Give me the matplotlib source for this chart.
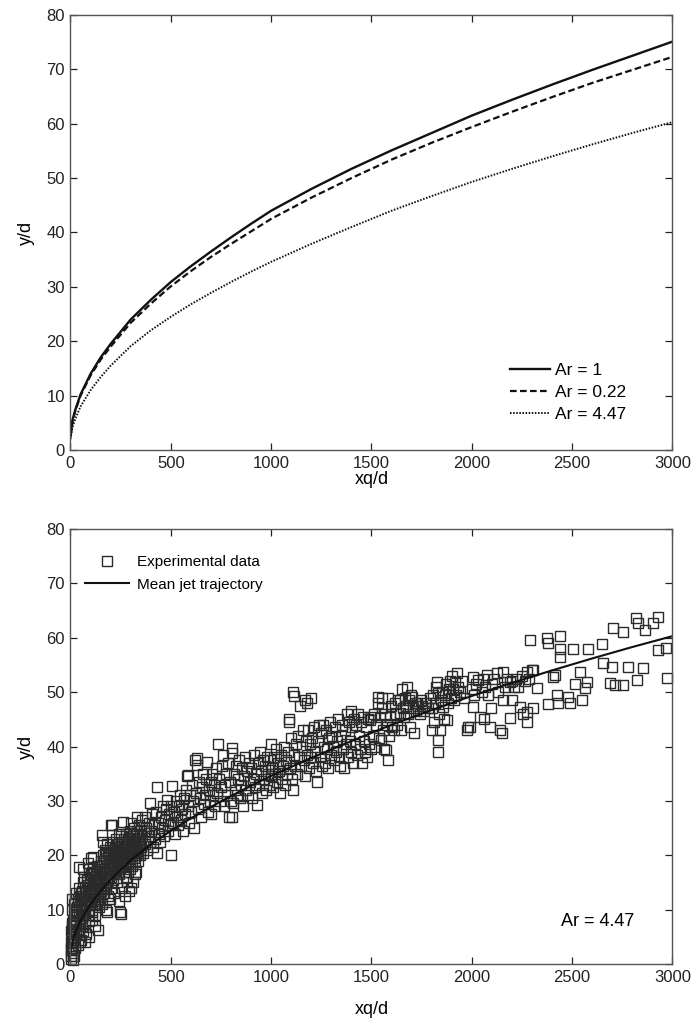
import matplotlib
matplotlib.use("Agg")
import matplotlib.pyplot as plt

plt.rcParams['font.family'] = ['Liberation Sans', 'DejaVu Sans']

# trajectory curves
curve_x = [0, 10, 25, 50, 100, 150, 200, 300, 400, 500, 600, 700, 800, 900, 1000,
           1200, 1400, 1600, 1800, 2000, 2200, 2400, 2600, 2800, 3000]
ar1_y = [2.5, 5.5, 7.5, 10.2, 14.0, 17.0, 19.5, 24.0, 27.6, 30.9, 33.8, 36.5, 39.1, 41.6, 44.0,
         48.0, 51.7, 55.1, 58.3, 61.5, 64.4, 67.2, 69.9, 72.5, 75.1]
ar022_y = [2.5, 5.3, 7.3, 10.0, 13.7, 16.6, 19.0, 23.4, 26.9, 30.1, 32.9, 35.5, 37.9, 40.2, 42.5,
           46.4, 50.0, 53.4, 56.5, 59.4, 62.2, 64.9, 67.5, 69.9, 72.3]
ar447_y = [2.0, 4.2, 5.8, 8.0, 11.0, 13.4, 15.5, 19.1, 22.0, 24.5, 26.8, 28.9, 30.9, 32.8, 34.6,
           37.9, 41.0, 44.0, 46.7, 49.3, 51.7, 54.0, 56.2, 58.3, 60.3]

# experimental points (Ar = 4.47), grouped by stretch of xq/d
pts_0_150 = [
    (2, 1), (3, 2.5), (5, 4), (4, 6), (6, 7.5), (8, 3), (10, 5), (12, 8), (10, 10), (15, 6.5),
    (15, 2), (18, 9), (20, 11), (20, 4.5), (22, 7), (25, 12), (25, 9.5), (28, 5.5), (30, 8),
    (30, 13), (32, 10.5), (35, 6.5), (38, 11.5), (40, 9), (40, 14), (42, 17.8), (45, 7),
    (48, 12.5), (50, 10), (52, 4.5), (55, 13.5), (55, 8.5), (58, 11), (60, 15), (60, 6),
    (8, 12), (5, 1.5), (12, 0.8), (18, 1.5), (35, 3.5), (45, 4),
    (62, 9), (65, 12), (68, 16), (70, 7.5), (72, 10.5), (75, 13.5), (78, 5.5), (80, 11.5),
    (82, 15.5), (85, 9), (88, 13), (90, 17.5), (92, 8), (95, 11), (98, 14.5), (100, 12),
    (100, 16.5), (103, 19.5), (105, 9.5), (107, 8.1), (110, 13.5), (112, 19.7), (115, 11),
    (115, 15.5), (118, 17), (120, 12.5), (122, 9), (125, 14.5), (128, 16.5), (130, 11.5),
    (132, 18), (135, 13), (137, 6.3), (138, 15.5), (140, 10.5), (142, 17), (145, 12.5),
    (148, 14), (150, 19), (150, 16), (70, 4), (90, 5), (120, 7), (85, 18.5), (60, 17.5),
]
pts_core = [
    (5, 3), (8, 5.5), (10, 7), (14, 4), (16, 8), (20, 6), (24, 3), (26, 10), (28, 7.5), (33, 9),
    (36, 12), (40, 6), (44, 10.5), (47, 8), (50, 13), (54, 11), (57, 7), (63, 12.5), (66, 10),
    (70, 14), (74, 9), (77, 12), (80, 15), (84, 11), (87, 14.5), (91, 10), (94, 13), (97, 16),
    (102, 11.5), (106, 14), (109, 17), (113, 12.5), (117, 14.5), (121, 16), (124, 11),
    (127, 13.5), (131, 15), (134, 17), (139, 12), (143, 15), (146, 17.5), (149, 12),
    (153, 15.5), (157, 18), (161, 13), (164, 16.5), (167, 19), (171, 14.5), (174, 17.5),
    (177, 20.5), (181, 15), (184, 18), (187, 20.5), (191, 16), (194, 19), (197, 17.5),
    (201, 20), (204, 16), (207, 18.5), (211, 21), (214, 16.5), (217, 19.5), (221, 18.5),
    (224, 21), (227, 17), (231, 19), (234, 21.5), (237, 17.5), (241, 20), (244, 22), (247, 18),
    (251, 20), (254, 22.5), (257, 19), (261, 21), (264, 18), (267, 23), (271, 19.5),
    (274, 21.5), (277, 16), (281, 20), (284, 22), (287, 17), (291, 20.5), (294, 22), (297, 19),
    (303, 21.5), (306, 23.5), (309, 20), (313, 22.5), (316, 19.5), (319, 23), (323, 21),
    (326, 20), (329, 22), (333, 24.5), (336, 20.5), (339, 23), (344, 22.5), (347, 21),
]
pts_150_500 = [
    (152, 13.5), (155, 23.7), (155, 17.5), (158, 11), (160, 15), (162, 20), (165, 13),
    (168, 18.5), (170, 16), (172, 21), (175, 10), (175, 14), (178, 19.5), (180, 17), (182, 22),
    (185, 12.5), (188, 15.5), (190, 20), (192, 18), (195, 16.5), (198, 21.5), (200, 14),
    (200, 25.5), (203, 19), (205, 17.5), (205, 25.6), (208, 22.5), (210, 15.5), (212, 20.5),
    (215, 18), (218, 13), (220, 21.5), (222, 17), (225, 19.5), (228, 23), (230, 15), (232, 20),
    (235, 18.5), (238, 22), (240, 16.5), (242, 11.5), (245, 9.6), (248, 20.5), (250, 9.2),
    (250, 23.5), (252, 18), (255, 21), (258, 14), (260, 19.5), (262, 26.1), (265, 22.5),
    (268, 17), (270, 20.5), (272, 12.5), (275, 24), (278, 18.5), (280, 21.5), (282, 15),
    (285, 23), (288, 19.5), (290, 22), (292, 13.5), (295, 24.5), (298, 17.5), (300, 20.5),
    (302, 26), (305, 22), (308, 18), (310, 24), (312, 15), (315, 21), (318, 25), (320, 19),
    (322, 22.5), (325, 17), (328, 24), (330, 27), (332, 21), (335, 23), (338, 19), (340, 25.5),
    (342, 22), (345, 20), (348, 24), (350, 21.5), (240, 24), (180, 9.5), (195, 12), (300, 14),
    (320, 16.5), (160, 22.5),
    (355, 23.5), (358, 26.5), (360, 20.5), (365, 24.5), (370, 22), (372, 27), (378, 25),
    (380, 21), (385, 23.5), (390, 26), (395, 22.5), (397, 29.6), (400, 24.5), (405, 27.5),
    (410, 21.5), (415, 25.5), (420, 23), (425, 28), (430, 32.6), (430, 20.5), (435, 26),
    (440, 24), (445, 22.5), (450, 27), (455, 25), (460, 29), (465, 23.5), (470, 26.5),
    (475, 28.5), (480, 30.2), (485, 24.5), (490, 27.5), (495, 25.5), (500, 20), (500, 29),
]
pts_500_1000 = [
    (505, 32.7), (510, 26), (515, 28), (520, 24), (525, 30), (530, 27), (535, 25.5), (540, 29),
    (545, 31), (550, 26.5), (555, 28.5), (560, 24.5), (565, 30.5), (570, 27.5), (575, 32),
    (580, 34.5), (585, 34.8), (588, 29), (590, 26), (595, 31), (600, 28), (605, 33), (610, 30),
    (615, 25), (620, 37.5), (625, 31.5), (630, 37.9), (630, 36.6), (635, 28.5), (640, 33.5),
    (645, 30.5), (650, 27), (655, 32.5), (660, 35), (665, 29.5), (670, 31), (675, 34),
    (680, 37.1), (685, 28), (690, 32), (695, 30), (700, 33.5), (700, 27.5),
    (705, 35), (710, 31), (715, 33), (720, 29), (725, 36), (730, 31.5), (735, 40.5), (740, 34),
    (745, 30), (750, 32.5), (755, 36.5), (760, 38.4), (765, 29), (770, 33), (775, 35), (780, 31),
    (785, 37), (790, 27), (795, 33.5), (800, 30), (805, 39.7), (805, 38.8), (810, 29.6),
    (805, 27), (815, 35), (820, 32), (825, 36.5), (830, 31), (835, 34), (840, 37.5),
    (845, 30.5), (850, 33), (855, 36), (860, 29), (865, 34.5), (870, 38), (875, 32),
    (880, 35.5), (885, 31), (890, 37), (895, 33.5), (900, 36), (905, 30.5), (910, 34),
    (915, 38.5), (920, 32.5), (925, 35), (930, 29.2), (935, 37), (940, 33), (945, 39),
    (950, 35.5), (955, 31.5), (960, 37.5), (965, 34), (970, 36.5), (975, 32), (980, 38),
    (985, 35), (990, 33), (995, 37.5), (1000, 40.5), (1000, 34.5),
]
pts_1000_1500 = [
    (1005, 36), (1010, 32.5), (1015, 38), (1020, 35), (1025, 39.5), (1030, 33.5), (1035, 37),
    (1040, 35.5), (1045, 31.4), (1050, 38.5), (1055, 34), (1060, 36.5), (1065, 40), (1070, 33),
    (1075, 37.5), (1080, 35), (1085, 39), (1090, 45), (1090, 44.5), (1095, 36), (1100, 41.5),
    (1105, 34), (1110, 32), (1110, 50), (1112, 49.3), (1115, 38.5), (1120, 36.5), (1125, 40.5),
    (1130, 35), (1135, 42), (1140, 38), (1145, 47.5), (1150, 36.5), (1155, 40), (1160, 43),
    (1165, 37.5), (1170, 48.6), (1170, 34.5), (1175, 41), (1180, 48), (1180, 38.5), (1185, 43),
    (1190, 36), (1195, 40.5), (1200, 48.9), (1200, 38),
    (1205, 41.5), (1210, 37), (1215, 43.5), (1220, 39), (1225, 35.5), (1230, 33.5), (1235, 41),
    (1240, 44), (1245, 38), (1250, 42.5), (1255, 36.5), (1260, 44), (1265, 40), (1270, 37),
    (1275, 43), (1280, 39.5), (1285, 36), (1290, 41.5), (1295, 44.5), (1300, 38.5), (1305, 42),
    (1310, 40), (1315, 37.5), (1320, 43.5), (1325, 39), (1330, 41), (1335, 45), (1340, 38),
    (1345, 36.5), (1350, 42), (1355, 44), (1360, 39.5), (1365, 36), (1370, 43), (1375, 40.5),
    (1380, 46), (1385, 38), (1390, 44.5), (1395, 41), (1400, 46.5), (1400, 39), (1405, 43.5),
    (1410, 37), (1415, 45), (1420, 40.5), (1425, 44), (1430, 38.5), (1435, 46), (1440, 42),
    (1445, 39.5), (1450, 44.5), (1455, 37), (1460, 45.5), (1465, 41), (1470, 39), (1475, 43.5),
    (1480, 38), (1485, 45), (1490, 40.5), (1495, 44.9), (1500, 45.5), (1500, 39.5),
]
pts_1500_2100 = [
    (1510, 42), (1515, 46), (1520, 40), (1525, 44), (1530, 49.1), (1530, 48), (1535, 41.5),
    (1540, 45.5), (1545, 41.2), (1550, 47), (1550, 49), (1555, 43), (1560, 39.5), (1565, 46),
    (1570, 39.4), (1575, 44), (1580, 37.5), (1580, 49), (1585, 42), (1590, 45.4), (1595, 47.5),
    (1600, 43.5), (1610, 43), (1615, 48), (1620, 46), (1625, 44), (1630, 48.5), (1640, 48.6),
    (1640, 46.2), (1645, 43), (1650, 50.5), (1655, 47), (1660, 45.5), (1665, 49), (1670, 47.5),
    (1675, 51), (1680, 46), (1685, 48.5), (1690, 43.6), (1695, 49.5), (1700, 49.1), (1705, 47),
    (1710, 42.5), (1715, 48), (1720, 46.5), (1725, 48), (1730, 47.5), (1740, 46), (1745, 48.5),
    (1750, 47.5), (1760, 46.5), (1770, 48), (1780, 47), (1790, 49), (1800, 43), (1800, 47),
    (1805, 49.5), (1810, 44.5), (1815, 48), (1820, 51), (1825, 51.9), (1830, 49.8), (1830, 41.2),
    (1830, 39), (1835, 46), (1840, 43), (1845, 48.5), (1850, 50), (1855, 47.3), (1860, 45),
    (1865, 49.5), (1870, 51.5), (1875, 44.9), (1880, 48), (1885, 50.5), (1890, 52), (1895, 49),
    (1900, 53), (1905, 50.5), (1910, 48.5), (1915, 51.9), (1920, 49.5), (1925, 53.5), (1930, 51),
    (1940, 50), (1950, 52), (1960, 49), (1975, 43), (1980, 43.5), (1990, 43.6), (2000, 50.5),
    (2005, 47.3), (2005, 52.8), (2010, 49.5), (2020, 51.5), (2030, 52.2), (2040, 45.4),
    (2050, 50), (2055, 52.5), (2060, 45), (2065, 51), (2075, 53.1), (2080, 49.5), (2090, 43.6),
    (2095, 47), (2100, 51.5),
]
pts_2100_3000 = [
    (2110, 52.5), (2125, 53.5), (2130, 50), (2140, 43), (2150, 42.5), (2155, 53.7), (2155, 48.6),
    (2165, 51), (2175, 52.5), (2190, 51.9), (2190, 45.2), (2200, 48.6), (2200, 52), (2210, 51),
    (2220, 52.5), (2230, 51), (2240, 47.3), (2250, 53), (2255, 46), (2265, 52), (2275, 53.7),
    (2275, 46.3), (2275, 44.5), (2285, 52.5), (2290, 59.6), (2300, 54), (2305, 54.1),
    (2305, 47.1), (2325, 50.8),
    (2375, 60), (2380, 59), (2380, 47.8), (2405, 52.8), (2415, 53.1), (2425, 49.5), (2430, 48),
    (2440, 60.3), (2440, 58), (2440, 56.5), (2480, 49.1), (2490, 48), (2505, 58), (2515, 51.5),
    (2540, 53.7), (2550, 48.6), (2565, 50.8), (2575, 51.9), (2580, 58), (2650, 58.9),
    (2655, 55.3), (2690, 51.6), (2700, 54.6), (2705, 61.8), (2715, 51.3), (2755, 61),
    (2755, 51.3), (2780, 54.6), (2820, 63.6), (2825, 52.2), (2830, 62.7), (2855, 54.4),
    (2865, 61.4), (2905, 62.7), (2930, 63.8), (2930, 57.7), (2970, 58.1), (2975, 52.6),
]

x_ticks = [0, 500, 1000, 1500, 2000, 2500, 3000]
y_ticks = [0, 10, 20, 30, 40, 50, 60, 70, 80]


def style_axes(ax):
    ax.set_xlim(0, 3000)
    ax.set_ylim(0, 80)
    ax.set_xticks(x_ticks)
    ax.set_yticks(y_ticks)
    ax.tick_params(direction='in', top=True, right=True, length=5, width=0.9,
                   labelsize=12, colors='#222222', pad=4)
    for sp in ax.spines.values():
        sp.set_color('#555555')
        sp.set_linewidth(1.0)
    ax.set_ylabel('y/d', fontsize=13, labelpad=8)


def main():
    fig = plt.figure(figsize=(6.93, 10.26), dpi=100)

    # top: three trajectories
    ax1 = fig.add_axes([0.1017, 0.5614, 0.8687, 0.424])
    ax1.plot(curve_x, ar1_y, '-', color='#111111', lw=1.7, label='Ar = 1')
    ax1.plot(curve_x, ar022_y, '--', color='#111111', lw=1.6, dashes=(3, 1.5), label='Ar = 0.22')
    ax1.plot(curve_x, ar447_y, ':', color='#111111', lw=1.4, dashes=(0.8, 0.8), label='Ar = 4.47')
    style_axes(ax1)
    ax1.set_xlabel('xq/d', fontsize=13, labelpad=0)
    ax1.legend(loc='upper left', bbox_to_anchor=(0.73, 0.20), frameon=False, fontsize=12.5,
               handlelength=2.3, handletextpad=0.3, labelspacing=0.4, borderpad=0,
               borderaxespad=0)

    # bottom: experimental data and mean trajectory
    ax2 = fig.add_axes([0.1017, 0.0604, 0.8687, 0.424])
    pts = (pts_0_150 + pts_core + pts_150_500 + pts_500_1000 + pts_1000_1500
           + pts_1500_2100 + pts_2100_3000)
    ex = [p[0] for p in pts]
    ey = [p[1] for p in pts]
    ax2.plot(ex, ey, 's', ms=6.8, mfc='none', mec='#2a2a2a', mew=1.0, clip_on=False,
             label='Experimental data')
    ax2.plot(curve_x, ar447_y, '-', color='#111111', lw=1.5, label='Mean jet trajectory')
    style_axes(ax2)
    ax2.set_xlabel('xq/d', fontsize=13, labelpad=12)
    ax2.legend(loc='upper left', bbox_to_anchor=(0.024, 0.94), frameon=False, fontsize=11,
               handlelength=2.9, handletextpad=0.5, labelspacing=0.55, borderpad=0,
               borderaxespad=0, numpoints=1)
    ax2.text(0.875, 0.097, 'Ar = 4.47', transform=ax2.transAxes, fontsize=13,
             ha='center', va='center')

    fig.savefig('out.png', dpi=100)


if __name__ == "__main__":
    main()
